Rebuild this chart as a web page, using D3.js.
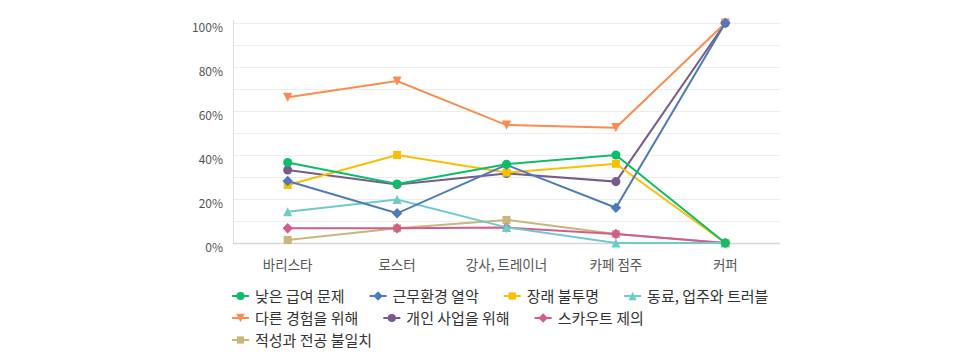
<!DOCTYPE html>
<html>
<head>
<meta charset="utf-8">
<script src="https://cdn.jsdelivr.net/npm/d3@7"></script>
<style>
  body { margin: 0; background: #fff; }
  text { font-family: "Noto Sans CJK KR", "Noto Sans", sans-serif; }
</style>
</head>
<body>
<script>
var width = 980;
var height = 363;
var mLeft = 233, mRight = 780, mTop = 23, mBottom = 243;

// categories and series (%)
var categories = ["바리스타", "로스터", "강사, 트레이너", "카페 점주", "커퍼"];
var yTicks = [0, 20, 40, 60, 80, 100];
var lowPay      = [36.6, 26.8, 35.8, 40.0, 0];
var badWork     = [28.2, 13.5, 35.5, 16.0, 100];
var noFuture    = [26.4, 40.0, 32.0, 36.0, 0];
var trouble     = [14.2, 19.8, 7.1, 0, 0];
var experience  = [66.2, 73.6, 53.6, 52.4, 100];
var ownBiz      = [33.2, 26.6, 31.6, 27.9, 100];
var scout       = [6.7, 6.7, 7.0, 4.1, 0];
var mismatch    = [1.4, 6.7, 10.5, 4.1, 0];

var names   = ["낮은 급여 문제", "근무환경 열악", "장래 불투명", "동료, 업주와 트러블",
               "다른 경험을 위해", "개인 사업을 위해", "스카우트 제의", "적성과 전공 불일치"];
var values  = [lowPay, badWork, noFuture, trouble, experience, ownBiz, scout, mismatch];
var colors  = ["#0cbd6a", "#4d7ab8", "#fbbf00", "#6ecbcb", "#fd8a4e", "#785a8e", "#d45b8d", "#c9b679"];
var symbols = ["circle", "diamond", "square", "triangle", "down", "circle", "diamond", "square"];

var svg = d3.select("body").append("svg")
    .attr("width", width)
    .attr("height", height);

var x = d3.scaleBand().domain(categories).range([mLeft, mRight]);
var y = d3.scaleLinear().domain([0, 100]).range([mBottom, mTop]);

// minor gridlines every 10%
svg.append("g").selectAll("line")
  .data(d3.range(10, 101, 10))
  .enter().append("line")
  .attr("x1", mLeft).attr("x2", mRight)
  .attr("y1", function(d) { return Math.round(y(d)) + 0.5; })
  .attr("y2", function(d) { return Math.round(y(d)) + 0.5; })
  .attr("stroke", "#ededed")
  .attr("stroke-width", 1);

// axis lines
svg.append("line")
  .attr("x1", mLeft + 0.5).attr("x2", mLeft + 0.5)
  .attr("y1", mTop - 3).attr("y2", mBottom)
  .attr("stroke", "#dcdcdc");
svg.append("line")
  .attr("x1", mLeft).attr("x2", mRight)
  .attr("y1", mBottom + 0.5).attr("y2", mBottom + 0.5)
  .attr("stroke", "#d6d6d6").attr("stroke-width", 1.5);

// y labels
svg.append("g").selectAll("text")
  .data(yTicks)
  .enter().append("text")
  .attr("x", mLeft - 10)
  .attr("y", function(d) { return y(d) + 9; })
  .attr("text-anchor", "end")
  .attr("font-size", 12)
  .attr("fill", "#555")
  .text(function(d) { return d + "%"; });

// x labels
svg.append("g").selectAll("text")
  .data(categories)
  .enter().append("text")
  .attr("x", function(d) { return x(d) + x.bandwidth() / 2; })
  .attr("y", 270)
  .attr("text-anchor", "middle")
  .attr("font-size", 13.5)
  .attr("fill", "#555")
  .text(function(d) { return d; });

// marker paths, s = scale
function marker(sym, s) {
  if (sym === "circle") return d3.symbol().type(d3.symbolCircle).size(64 * s * s)();
  if (sym === "square") return d3.symbol().type(d3.symbolSquare).size(64 * s * s)();
  if (sym === "diamond") {
    var r = 5.2 * s;
    return "M0," + (-r) + "L" + r + ",0L0," + r + "L" + (-r) + ",0Z";
  }
  var h = 4.6 * s;
  if (sym === "triangle") return "M0," + (-h) + "L" + h + "," + h + "L" + (-h) + "," + h + "Z";
  return "M0," + h + "L" + h + "," + (-h) + "L" + (-h) + "," + (-h) + "Z";
}

var line = d3.line()
  .x(function(d, i) { return x(categories[i]) + x.bandwidth() / 2; })
  .y(function(d) { return y(d); });

// earlier series end up on top
d3.range(values.length - 1, -1, -1).forEach(function(k) {
  var vals = values[k];
  var g = svg.append("g");
  g.append("path")
    .datum(vals)
    .attr("d", line)
    .attr("fill", "none")
    .attr("stroke", colors[k])
    .attr("stroke-width", 2);
  g.selectAll("path.pt")
    .data(vals)
    .enter().append("path")
    .attr("class", "pt")
    .attr("d", marker(symbols[k], 1))
    .attr("transform", function(d, i) {
      return "translate(" + (x(categories[i]) + x.bandwidth() / 2) + "," + y(d) + ")";
    })
    .attr("fill", colors[k]);
});

// legend: flow layout, wraps at max width
var legend = svg.append("g");
var items = legend.selectAll("g")
  .data(names)
  .enter().append("g");
items.append("line")
  .attr("x1", 0).attr("x2", 17)
  .attr("y1", 0).attr("y2", 0)
  .attr("stroke", function(d, i) { return colors[i]; })
  .attr("stroke-width", 2);
items.append("path")
  .attr("d", function(d, i) { return marker(symbols[i], 0.9); })
  .attr("transform", "translate(8.5,0)")
  .attr("fill", function(d, i) { return colors[i]; });
items.append("text")
  .attr("x", 23)
  .attr("y", 5.5)
  .attr("font-size", 15)
  .attr("fill", "#333")
  .text(function(d) { return d; });

var lx = 232, maxW = 552;
var cx = 0, row = 0;
items.each(function(d, i) {
  var w = 23 + d3.select(this).select("text").node().getComputedTextLength();
  if (cx > 0 && cx + w > maxW) { cx = 0; row++; }
  d3.select(this).attr("transform", "translate(" + (lx + cx) + "," + (296 + row * 22) + ")");
  cx += w + 25;
});
</script>
</body>
</html>
